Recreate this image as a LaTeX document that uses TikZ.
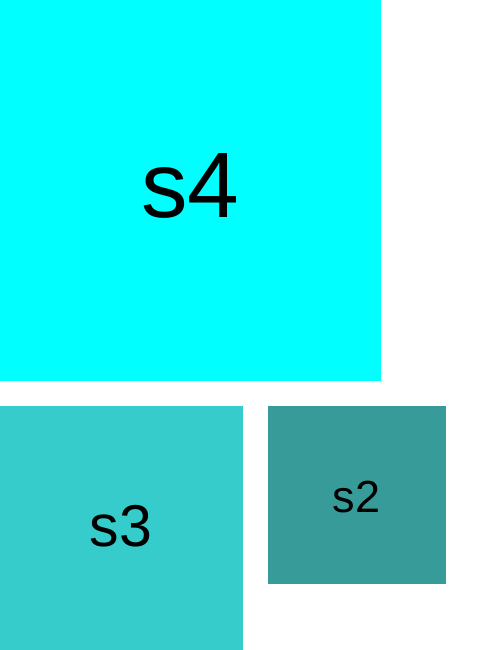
\documentclass[tikz,border=0pt]{standalone}
\usepackage{fontspec}
\setmainfont{Liberation Sans}
\definecolor{cs4}{RGB}{0,255,255}
\definecolor{cs3}{RGB}{54,204,204}
\definecolor{cs2}{RGB}{54,155,153}
\begin{document}
\begin{tikzpicture}[x=1pt,y=-1pt,
  box/.style={draw=none,inner sep=0pt,outer sep=0pt,rectangle},
  lbl/.style={inner sep=0pt,anchor=center,text=black}]
\useasboundingbox (0,0) rectangle (495,650);
\node[box,fill=cs4,minimum width=381pt,minimum height=381pt] (s4) at (190.5,190.5) {};
\node[box,fill=cs3,minimum width=243pt,minimum height=244pt] (s3) at (121.5,528) {};
\node[box,fill=cs2,minimum width=178pt,minimum height=178pt] (s2) at (357,495) {};
\node[lbl,font=\fontsize{93}{93}\selectfont] (t4) at (190.5,185.5) {s4};
\node[lbl,font=\fontsize{59}{59}\selectfont] (t3) at (121,526.5) {s3};
\node[lbl,font=\fontsize{45}{45}\selectfont] (t2) at (356.5,497.5) {s2};
\end{tikzpicture}
\end{document}
